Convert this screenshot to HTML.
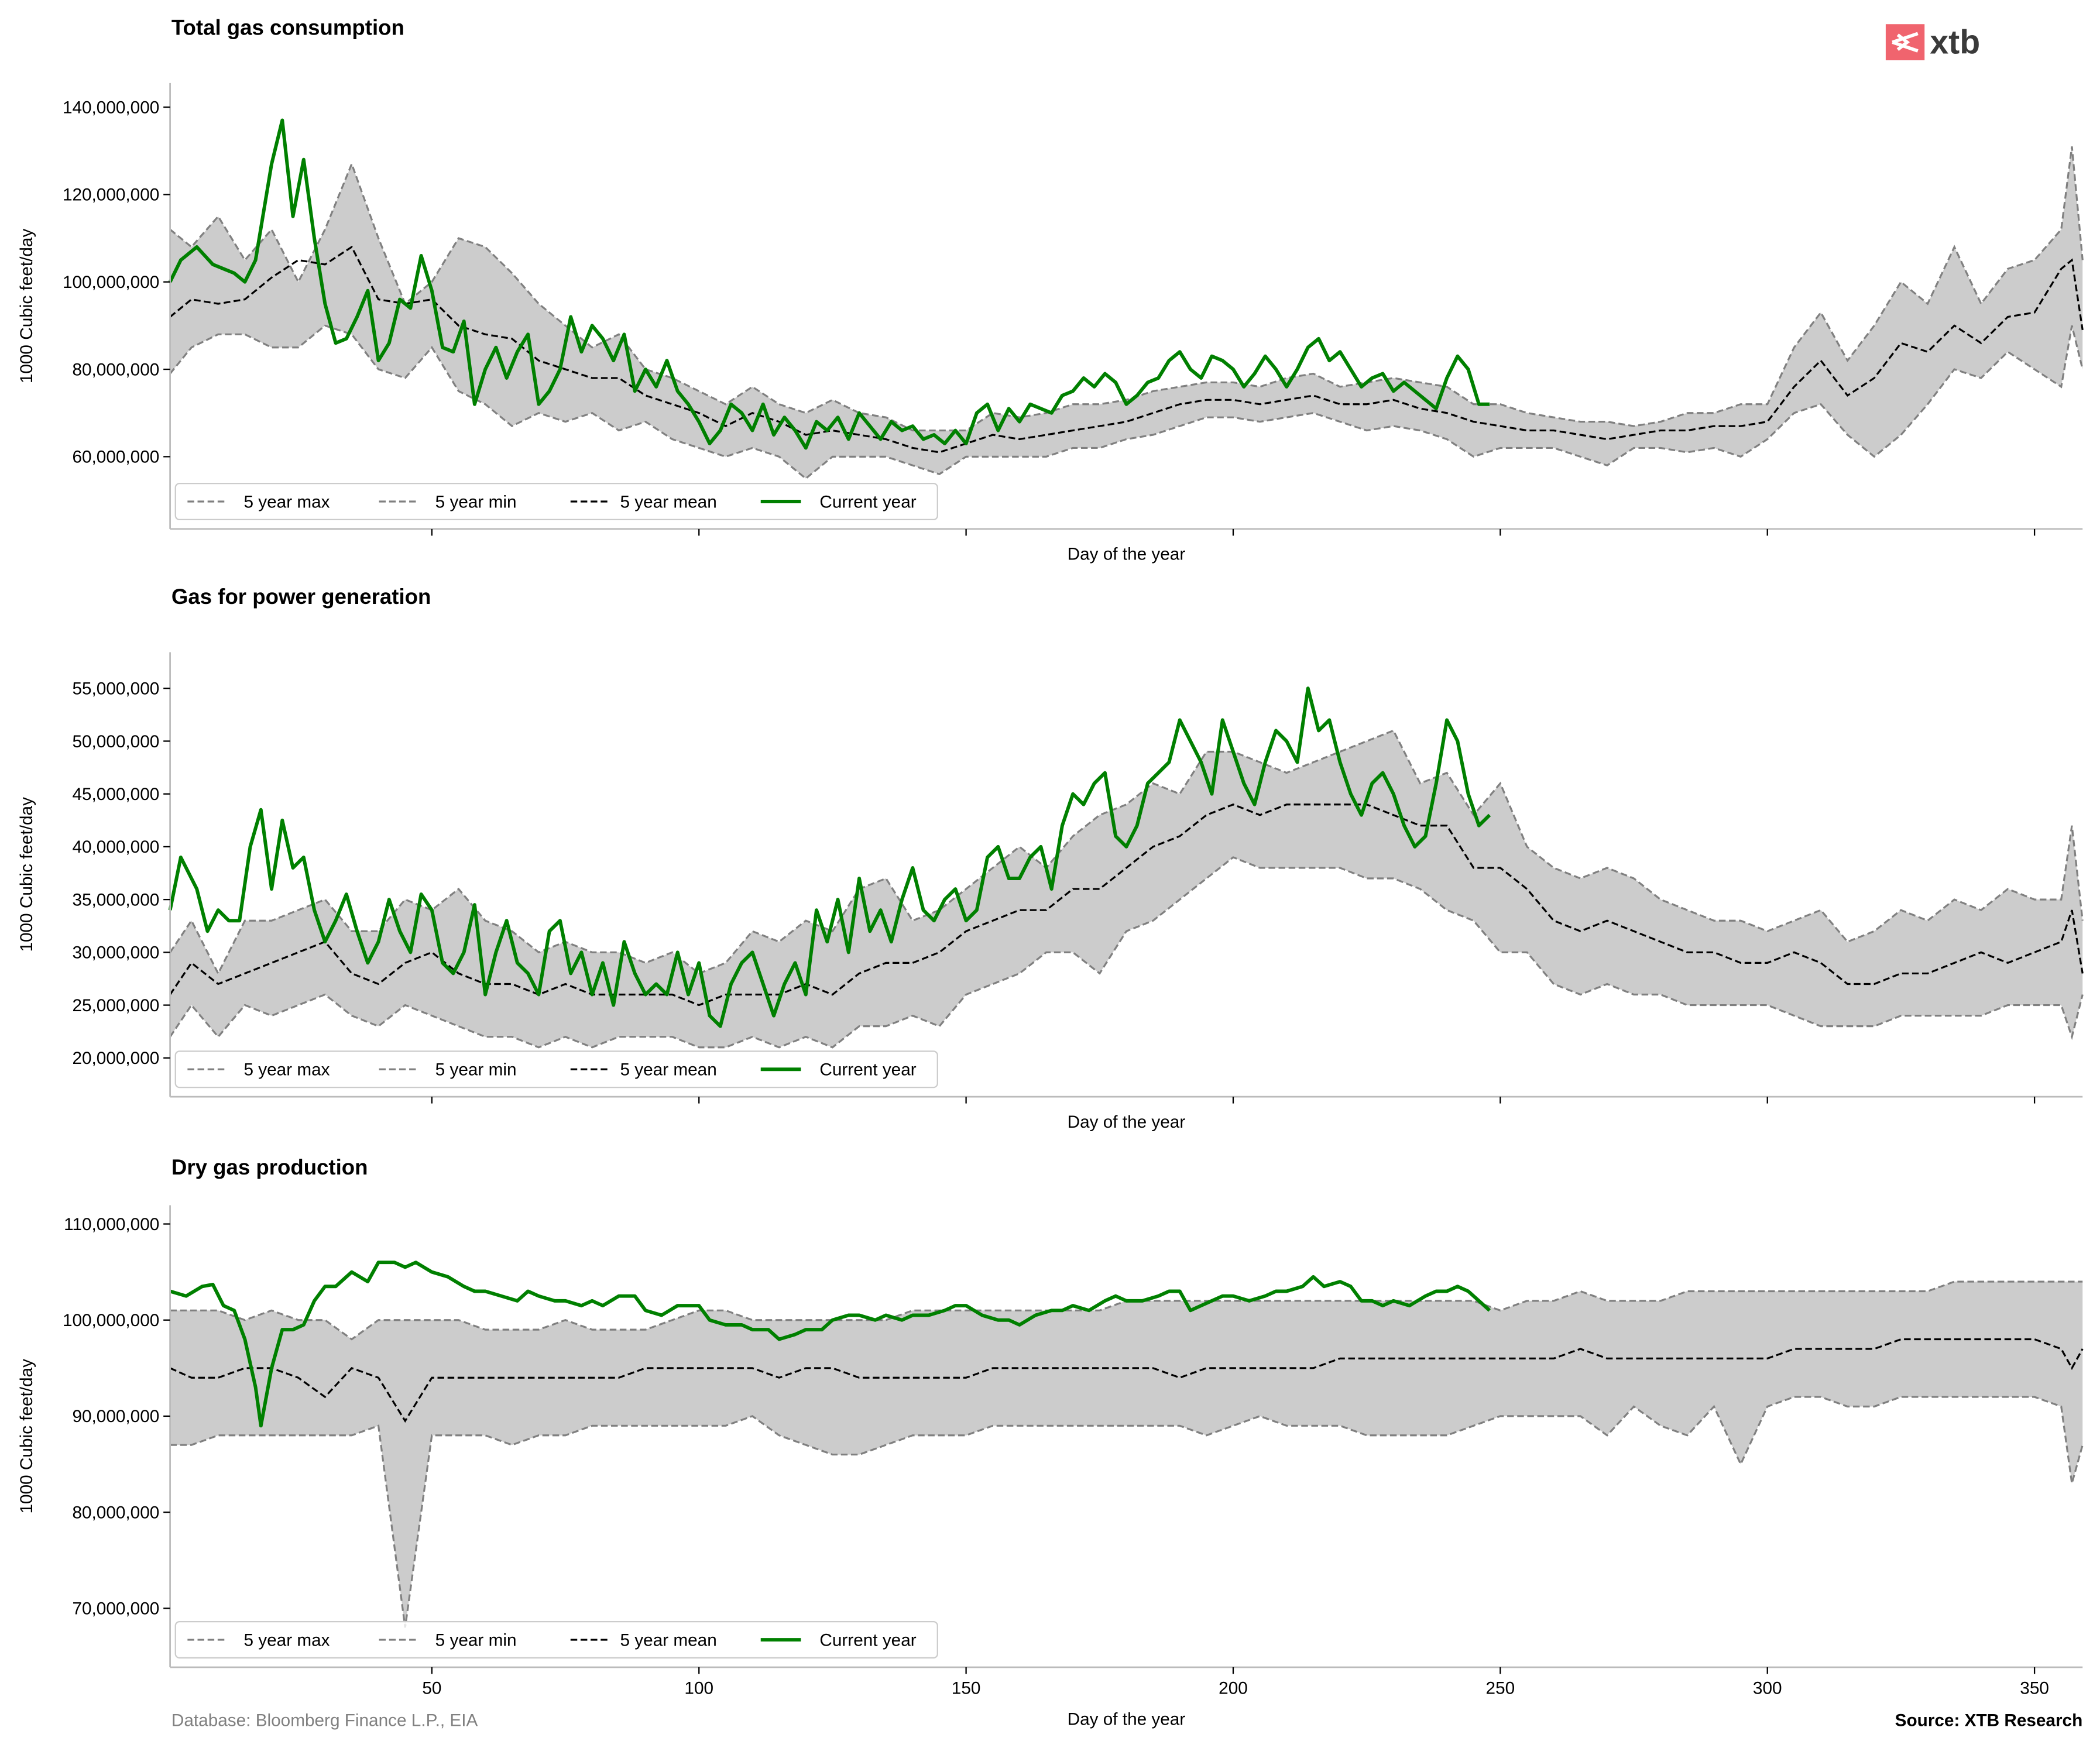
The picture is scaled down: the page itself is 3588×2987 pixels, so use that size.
<!DOCTYPE html>
<html><head><meta charset="utf-8"><style>
html,body{margin:0;padding:0;background:#fff;}
svg{display:block;font-family:"Liberation Sans",Arial,sans-serif;}
</style></head><body>
<svg id="chart" xmlns="http://www.w3.org/2000/svg" width="3588" height="2987" viewBox="0 0 1568 1305.3">
<rect width="1568" height="1305.3" fill="#fff"/>
<g>
<rect x="1408" y="18" width="29" height="27" fill="#f0646e"/>
<path d="M1413 31.5 L1432 25 M1413 31.5 L1432 38 M1417 26 L1424 31.5 L1417 37" stroke="#fff" stroke-width="2.5" fill="none"/>
<text x="1441" y="40" font-size="25" font-weight="bold" fill="#3a3a3a">xtb</text>
</g>
<text x="128" y="1289" font-size="13" fill="#808080">Database: Bloomberg Finance L.P., EIA</text>
<text x="1555" y="1289" font-size="13" font-weight="bold" text-anchor="end">Source: XTB Research</text>
</svg>
<script>
const bandDays=[1,5,10,15,20,25,30,35,40,45,50,55,60,65,70,75,80,85,90,95,100,105,110,115,120,125,130,135,140,145,150,155,160,165,170,175,180,185,190,195,200,205,210,215,220,225,230,235,240,245,250,255,260,265,270,275,280,285,290,295,300,305,310,315,320,325,330,335,340,345,350,355,357,359];
const p1Max=[112,108,115,105,112,100,112,127,110,95, 100,110,108,102,95,90,85,88,80,78, 75,72,76,72,70,73,70,69,66,66, 66,70,69,70,72,72,73,75,76,77, 77,76,78,79,76,77,78,77,76,72, 72,70,69,68,68,67,68,70,70,72, 72,85,93,82,90,100,95,108,95,103, 105,112,131,105];
const p1Min=[79,85,88,88,85,85,90,88,80,78, 85,75,72,67,70,68,70,66,68,64, 62,60,62,60,55,60,60,60,58,56, 60,60,60,60,62,62,64,65,67,69, 69,68,69,70,68,66,67,66,64,60, 62,62,62,60,58,62,62,61,62,60, 64,70,72,65,60,65,72,80,78,84, 80,76,90,80];
const p1Mean=[92,96,95,96,101,105,104,108,96,95, 96,90,88,87,82,80,78,78,74,72, 70,67,70,68,65,66,65,64,62,61, 63,65,64,65,66,67,68,70,72,73, 73,72,73,74,72,72,73,71,70,68, 67,66,66,65,64,65,66,66,67,67, 68,76,82,74,78,86,84,90,86,92, 93,103,105,89];
const p1CurDays=[1,3,6,9,13,15,17,20,22,24,26,28,30,32,34,36,38,40,42,44,46,48,50,52,54,56,58,60,62,64,66,68,70,72,74,76,78,80,82,84,86,88,90,92,94,96,98,100,102,104,106,108,110,112,114,116,118,120,122,124,126,128,130,132,134,136,138,140,142,144,146,148,150,152,154,156,158,160,162,164,166,168,170,172,174,176,178,180,182,184,186,188,190,192,194,196,198,200,202,204,206,208,210,212,214,216,218,220,222,224,226,228,230,232,234,236,238,240,242,244,246,248];
const p1Cur=[100,105,108,104,102,100,105,127,137,115,128,110,95,86,87,92,98,82,86,96,94,106,98,85,84,91,72,80,85,78,84,88,72,75,80,92,84,90,87,82,88,75,80,76,82,75,72,68,63,66,72,70,66,72,65,69,66,62,68,66,69,64,70,67,64,68,66,67,64,65,63,66,63,70,72,66,71,68,72,71,70,74,75,78,76,79,77,72,74,77,78,82,84,80,78,83,82,80,76,79,83,80,76,80,85,87,82,84,80,76,78,79,75,77,75,73,71,78,83,80,72,72];
const p1Ticks=[60,80,100,120,140];

const p2Max=[30,33,28,33,33,34,35,32,32,35, 34,36,33,32,30,31,30,30,29,30, 28,29,32,31,33,32,36,37,33,34, 36,38,40,38,41,43,44,46,45,49, 49,48,47,48,49,50,51,46,47,43, 46,40,38,37,38,37,35,34,33,33, 32,33,34,31,32,34,33,35,34,36, 35,35,42,33];
const p2Min=[22,25,22,25,24,25,26,24,23,25, 24,23,22,22,21,22,21,22,22,22, 21,21,22,21,22,21,23,23,24,23, 26,27,28,30,30,28,32,33,35,37, 39,38,38,38,38,37,37,36,34,33, 30,30,27,26,27,26,26,25,25,25, 25,24,23,23,23,24,24,24,24,25, 25,25,22,26];
const p2Mean=[26,29,27,28,29,30,31,28,27,29, 30,28,27,27,26,27,26,26,26,26, 25,26,26,26,27,26,28,29,29,30, 32,33,34,34,36,36,38,40,41,43, 44,43,44,44,44,44,43,42,42,38, 38,36,33,32,33,32,31,30,30,29, 29,30,29,27,27,28,28,29,30,29, 30,31,34,28];
const p2CurDays=[1,3,6,8,10,12,14,16,18,20,22,24,26,28,30,32,34,36,38,40,42,44,46,48,50,52,54,56,58,60,62,64,66,68,70,72,74,76,78,80,82,84,86,88,90,92,94,96,98,100,102,104,106,108,110,112,114,116,118,120,122,124,126,128,130,132,134,136,138,140,142,144,146,148,150,152,154,156,158,160,162,164,166,168,170,172,174,176,178,180,182,184,186,188,190,192,194,196,198,200,202,204,206,208,210,212,214,216,218,220,222,224,226,228,230,232,234,236,238,240,242,244,246,248];
const p2Cur=[34,39,36,32,34,33,33,40,43.5,36,42.5,38,39,34,31,33,35.5,32,29,31,35,32,30,35.5,34,29,28,30,34.5,26,30,33,29,28,26,32,33,28,30,26,29,25,31,28,26,27,26,30,26,29,24,23,27,29,30,27,24,27,29,26,34,31,35,30,37,32,34,31,35,38,34,33,35,36,33,34,39,40,37,37,39,40,36,42,45,44,46,47,41,40,42,46,47,48,52,50,48,45,52,49,46,44,48,51,50,48,55,51,52,48,45,43,46,47,45,42,40,41,46,52,50,45,42,43];
const p2Ticks=[20,25,30,35,40,45,50,55];

const p3Max=[101,101,101,100,101,100,100,98,100,100, 100,100,99,99,99,100,99,99,99,100, 101,101,100,100,100,100,100,100,101,101, 101,101,101,101,101,101,102,102,102,102, 102,102,102,102,102,102,102,102,102,102, 101,102,102,103,102,102,102,103,103,103, 103,103,103,103,103,103,103,104,104,104, 104,104,104,104];
const p3Min=[87,87,88,88,88,88,88,88,89,68, 88,88,88,87,88,88,89,89,89,89, 89,89,90,88,87,86,86,87,88,88, 88,89,89,89,89,89,89,89,89,88, 89,90,89,89,89,88,88,88,88,89, 90,90,90,90,88,91,89,88,91,85, 91,92,92,91,91,92,92,92,92,92, 92,91,83,87];
const p3Mean=[95,94,94,95,95,94,92,95,94,89.5, 94,94,94,94,94,94,94,94,95,95, 95,95,95,94,95,95,94,94,94,94, 94,95,95,95,95,95,95,95,94,95, 95,95,95,95,96,96,96,96,96,96, 96,96,96,97,96,96,96,96,96,96, 96,97,97,97,97,98,98,98,98,98, 98,97,95,97];
const p3CurDays=[1,4,7,9,11,13,15,17,18,20,22,24,26,28,30,32,35,38,40,43,45,47,50,53,56,58,60,63,66,68,70,73,75,78,80,82,85,88,90,93,96,100,102,105,108,110,113,115,118,120,123,125,128,130,133,135,138,140,143,146,148,150,153,156,158,160,163,166,168,170,173,176,178,180,183,186,188,190,192,194,196,198,200,203,206,208,210,213,215,217,220,222,224,226,228,230,233,236,238,240,242,244,246,248];
const p3Cur=[103,102.5,103.5,103.7,101.5,101,98,93,89,95,99,99,99.5,102,103.5,103.5,105,104,106,106,105.5,106,105,104.5,103.5,103,103,102.5,102,103,102.5,102,102,101.5,102,101.5,102.5,102.5,101,100.5,101.5,101.5,100,99.5,99.5,99,99,98,98.5,99,99,100,100.5,100.5,100,100.5,100,100.5,100.5,101,101.5,101.5,100.5,100,100,99.5,100.5,101,101,101.5,101,102,102.5,102,102,102.5,103,103,101,101.5,102,102.5,102.5,102,102.5,103,103,103.5,104.5,103.5,104,103.5,102,102,101.5,102,101.5,102.5,103,103,103.5,103,102,101];
const p3Ticks=[70,80,90,100,110];
const xTicks=[50,100,150,200,250,300,350];

const NS='http://www.w3.org/2000/svg';
const svg=document.getElementById('chart');
function mk(tag,attrs,parent){const e=document.createElementNS(NS,tag);for(const k in attrs)e.setAttribute(k,attrs[k]);(parent||svg).appendChild(e);return e;}
const X0=127,X1=1555,D0=1,D1=359;
function xs(d){return X0+(d-D0)/(D1-D0)*(X1-X0);}
function pts(days,vals,ys){const n=Math.min(days.length,vals.length);let s='';for(let i=0;i<n;i++)s+=xs(days[i]).toFixed(2)+','+ys(vals[i]).toFixed(2)+' ';return s;}

function panel(cfg){
  const g=mk('g',{});
  
  
  const ys=v=>cfg.yA+(v-cfg.vA)*(cfg.yB-cfg.yA)/(cfg.vB-cfg.vA);
  const t=mk('text',{x:128,y:cfg.titleY,'font-size':16,'font-weight':'bold'},g);t.textContent=cfg.title;
  
  
  // band
  const n=bandDays.length;let s='';
  for(let i=0;i<n;i++)s+=xs(bandDays[i]).toFixed(2)+','+ys(cfg.max[i]).toFixed(2)+' ';
  for(let i=n-1;i>=0;i--)s+=xs(bandDays[i]).toFixed(2)+','+ys(cfg.min[i]).toFixed(2)+' ';
  const band=mk('polygon',{points:s,fill:'#cccccc'},g);
  
  
  const lmax=mk('polyline',{points:pts(bandDays,cfg.max,ys),fill:'none',stroke:'#808080','stroke-width':1.4,'stroke-dasharray':'5,2.5'},g);
  
  
  const lmin=mk('polyline',{points:pts(bandDays,cfg.min,ys),fill:'none',stroke:'#808080','stroke-width':1.4,'stroke-dasharray':'5,2.5'},g);
  
  
  const lmean=mk('polyline',{points:pts(bandDays,cfg.mean,ys),fill:'none',stroke:'#000','stroke-width':1.4,'stroke-dasharray':'5,2.5'},g);
  
  
  const lcur=mk('polyline',{points:pts(cfg.curDays,cfg.cur,ys),fill:'none',stroke:'#008000','stroke-width':2.6,'stroke-linejoin':'round'},g);
  
  
  // spines
  mk('line',{x1:X0,y1:cfg.top,x2:X0,y2:cfg.bottom,stroke:'#bbbbbb','stroke-width':1.2},g);
  mk('line',{x1:X0,y1:cfg.bottom,x2:X1,y2:cfg.bottom,stroke:'#bbbbbb','stroke-width':1.2},g);
  cfg.ticks.forEach(v=>{
    const y=ys(v);
    mk('line',{x1:X0-5,y1:y,x2:X0,y2:y,stroke:'#000','stroke-width':1},g);
    const tl=mk('text',{x:X0-8,y:y+4.5,'font-size':13,'text-anchor':'end'},g);
    tl.textContent=(v*1000000).toLocaleString('en-US');
    
    
  });
  xTicks.forEach(d=>{
    const x=xs(d);
    mk('line',{x1:x,y1:cfg.bottom,x2:x,y2:cfg.bottom+5,stroke:'#000','stroke-width':1},g);
    if(cfg.xlabels){const tl=mk('text',{x:x,y:cfg.bottom+20,'font-size':13,'text-anchor':'middle'},g);tl.textContent=d;
      
      }
  });
  const xl=mk('text',{x:841,y:cfg.bottom+(cfg.xlabels?43:23),'font-size':13,'text-anchor':'middle'},g);xl.textContent='Day of the year';
  
  
  const yc=(cfg.top+cfg.bottom)/2;
  const yl=mk('text',{x:0,y:0,'font-size':13,'text-anchor':'middle',transform:`translate(24,${yc}) rotate(-90)`},g);yl.textContent='1000 Cubic feet/day';
  
  
  // legend
  const lg=mk('g',{},g);
  
  
  const ly=cfg.bottom-34;
  mk('rect',{x:131,y:ly,width:569,height:27,rx:3,fill:'#fff','fill-opacity':0.8,stroke:'#cccccc','stroke-width':1},lg);
  const entries=[['5 year max','#808080',1.4,'5,2.5',140,182],['5 year min','#808080',1.4,'5,2.5',283,325],['5 year mean','#000',1.4,'5,2.5',426,463],['Current year','#008000',2.6,'',568,612]];
  entries.forEach(e=>{
    const a={x1:e[4],y1:ly+13.5,x2:e[4]+30,y2:ly+13.5,stroke:e[1],'stroke-width':e[2]};
    if(e[3])a['stroke-dasharray']=e[3];
    mk('line',a,lg);
    const tx=mk('text',{x:e[5],y:ly+18,'font-size':13},lg);tx.textContent=e[0];
    
    
  });
}
panel({name:'total-gas-consumption-panel',title:'Total gas consumption',titleY:26,top:62,bottom:395,yA:341,vA:60,yB:80,vB:140,ticks:p1Ticks,max:p1Max,min:p1Min,mean:p1Mean,curDays:p1CurDays,cur:p1Cur,xlabels:false});
panel({name:'power-generation-panel',title:'Gas for power generation',titleY:451,top:487,bottom:819,yA:790,vA:20,yB:514,vB:55,ticks:p2Ticks,max:p2Max,min:p2Min,mean:p2Mean,curDays:p2CurDays,cur:p2Cur,xlabels:false});
panel({name:'dry-gas-production-panel',title:'Dry gas production',titleY:877,top:900,bottom:1245,yA:1201,vA:70,yB:914,vB:110,ticks:p3Ticks,max:p3Max,min:p3Min,mean:p3Mean,curDays:p3CurDays,cur:p3Cur,xlabels:true});
</script>
</body></html>
